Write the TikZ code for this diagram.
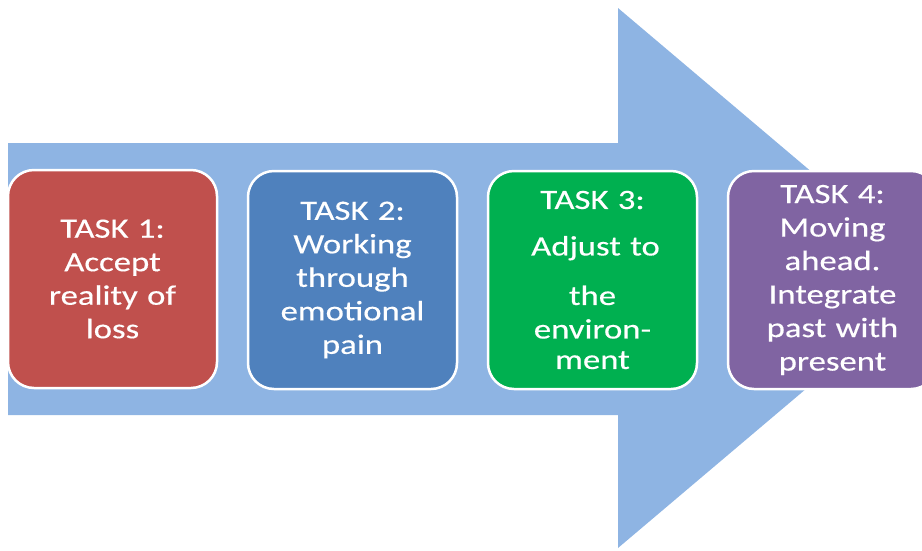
\documentclass[tikz,border=0pt]{standalone}
\usepackage{fontspec}
\setmainfont{Carlito}[FakeStretch=1.24,FakeBold=0.4,WordSpace=0.7]
\definecolor{arrowblue}{HTML}{8EB4E3}
\definecolor{taskred}{HTML}{C0504D}
\definecolor{taskblue}{HTML}{4F81BD}
\definecolor{taskgreen}{HTML}{00B050}
\definecolor{taskpurple}{HTML}{8064A2}
\begin{document}
\begin{tikzpicture}[x=1pt,y=-1pt,
  taskbox/.style={draw=white, line width=2.5pt, rounded corners=26pt,
    minimum width=209pt, minimum height=218pt, text=white, align=center,
    font=\fontsize{28}{33.5}\selectfont, inner sep=0pt, text width=205pt}]
\useasboundingbox (0,0) rectangle (922,550);
\clip (0,0) rectangle (922,550);
\fill[arrowblue] (8,143) -- (618,143) -- (618,8) -- (937,278) -- (618,548) -- (618,415) -- (8,415) -- cycle;
\node[taskbox, fill=taskred] (t1) at (112.5,279) {TASK 1:\\Accept\\reality of\\loss};
\node[taskbox, fill=taskblue] (t2) at (352.5,280) {TASK 2:\\Working\\through\\emotional\\pain};
\node[taskbox, fill=taskgreen] (t3) at (592.5,280) {TASK 3:\\[13pt]\hspace*{6pt}Adjust to\\[16pt]the\\environ-\\[-3pt]ment};
\node[taskbox, fill=taskpurple] (t4) at (832.5,280) {TASK 4:\\Moving\\ahead.\\Integrate\\past with\\present};
\end{tikzpicture}
\end{document}
